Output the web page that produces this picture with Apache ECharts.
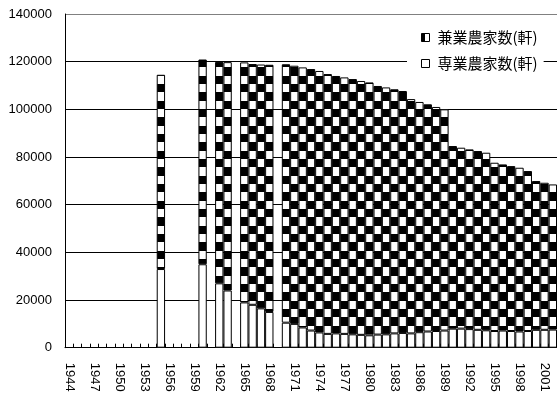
<!DOCTYPE html>
<html>
<head>
<meta charset="utf-8">
<style>
  html, body { margin: 0; padding: 0; background: #fff; }
  #chart { width: 557px; height: 395px; }
</style>
<script src="https://cdn.jsdelivr.net/npm/echarts@6/dist/echarts.min.js"></script>
</head>
<body>
<div id="chart"></div>
<script>
// Survey years on the category axis
const years = [
  '1944','1945','1946','1947','1948','1949','1950','1951','1952','1953',
  '1954','1955','1956','1957','1958','1959','1960','1961','1962','1963',
  '1964','1965','1966','1967','1968','1969','1970','1971','1972','1973',
  '1974','1975','1976','1977','1978','1979','1980','1981','1982','1983',
  '1984','1985','1986','1987','1988','1989','1990','1991','1992','1993',
  '1994','1995','1996','1997','1998','1999','2000','2001','2002'
];

// 専業農家数 (full-time farm households), null = no survey
const fullTime = [
  null, null, null, null, null, null, null, null, null, null,
  null, 33000, null, null, null, null, 35000, null, 27000, 24000,
  null, 19000, 18000, 16500, 15000, null, 10500, 10000, 8500, 7200,
  6400, 5800, 6000, 5800, 5600, 5400, 5200, 5500, 5600, 6000,
  6200, 6000, 6500, 6800, 7000, 7200, 8000, 8000, 7800, 7500,
  7300, 7000, 7200, 7000, 6800, 7000, 7500, 7500, 7600
];

// 兼業農家数 (part-time farm households)
const partTime = [
  null, null, null, null, null, null, null, null, null, null,
  null, 81500, null, null, null, null, 85900, null, 92900, 95800,
  null, 100700, 101000, 102300, 103700, null, 108400, 108300, 109100, 109700,
  109700, 109000, 108000, 107600, 107100, 106500, 106100, 104300, 103600, 102400,
  101500, 98300, 96600, 95300, 94000, 92800, 76600, 75900, 75400, 75000,
  74500, 70600, 69700, 69200, 68700, 67100, 62400, 61700, 60900
];

const yTicks = [0, 20000, 40000, 60000, 80000, 100000, 120000, 140000];

// Large checkerboard fill, cell size follows the bar width
function checkerPattern() {
  const size = 50, cell = size / 6;
  const c = document.createElement('canvas');
  c.width = size; c.height = size;
  const ctx = c.getContext('2d');
  ctx.fillStyle = '#fff';
  ctx.fillRect(0, 0, size, size);
  ctx.fillStyle = '#000';
  const ox = 15 % cell, oy = 0.67;
  for (let i = -1; i < 8; i++) {
    for (let j = -1; j < 8; j++) {
      if (((i + j) % 2 + 2) % 2 !== 0) continue;
      const x0 = Math.round(ox + i * cell), x1 = Math.round(ox + (i + 1) * cell);
      const y0 = Math.round(oy + j * cell), y1 = Math.round(oy + (j + 1) * cell);
      // wrap so the tile repeats seamlessly
      for (const dx of [-size, 0, size]) {
        for (const dy of [-size, 0, size]) {
          ctx.fillRect(x0 + dx, y0 + dy, x1 - x0, y1 - y0);
        }
      }
    }
  }
  return c;
}

const chart = echarts.init(document.getElementById('chart'), null, { renderer: 'canvas' });

const gridColors = yTicks.map((v, i) => i === yTicks.length - 1 ? '#808080' : '#000');

chart.setOption({
  animation: false,
  backgroundColor: '#fff',
  textStyle: { fontFamily: 'Liberation Sans, Arial, sans-serif', color: '#000' },
  grid: { left: 65, right: 0, top: 14, bottom: 47.3, containLabel: false },
  legend: {
    orient: 'vertical',
    left: 407,
    top: 24,
    padding: [6, 6, 6, 14],
    itemWidth: 8,
    itemHeight: 8,
    itemGap: 11,
    backgroundColor: '#fff',
    z: 4,
    textStyle: {
      fontFamily: '"Noto Sans CJK JP", sans-serif',
      fontSize: 15,
      color: '#000',
      padding: [0, 0, 0, 3]
    },
    data: [
      {
        name: '兼業農家数(軒)',
        icon: 'rect',
        itemStyle: {
          color: {
            type: 'linear', x: 0, y: 0, x2: 1, y2: 0,
            colorStops: [
              { offset: 0, color: '#000' }, { offset: 0.5, color: '#000' },
              { offset: 0.5, color: '#fff' }, { offset: 1, color: '#fff' }
            ]
          },
          borderColor: '#000',
          borderWidth: 1
        }
      },
      {
        name: '専業農家数(軒)',
        icon: 'rect',
        itemStyle: { color: '#fff', borderColor: '#000', borderWidth: 1 }
      }
    ]
  },
  xAxis: {
    type: 'category',
    data: years,
    boundaryGap: true,
    axisLine: { show: true, lineStyle: { color: '#000', width: 1 } },
    axisTick: { show: true, inside: true, length: 4, interval: 0, lineStyle: { color: '#000' } },
    axisLabel: {
      interval: 2,
      rotate: -90,
      margin: 15,
      fontSize: 13,
      color: '#000',
      fontFamily: 'Liberation Sans, Arial, sans-serif'
    },
    splitLine: { show: false }
  },
  yAxis: {
    type: 'value',
    min: 0,
    max: 140000,
    interval: 20000,
    axisLine: { show: true, lineStyle: { color: '#000', width: 1 } },
    axisTick: { show: false },
    axisLabel: {
      margin: 13,
      fontSize: 13,
      color: '#000',
      fontFamily: 'Liberation Sans, Arial, sans-serif',
      formatter: (v) => String(v)
    },
    splitLine: { show: true, lineStyle: { color: gridColors, width: 1 } }
  },
  series: [
    {
      name: '専業農家数(軒)',
      type: 'bar',
      stack: 'farms',
      data: fullTime,
      barCategoryGap: '0%',
      itemStyle: { color: '#fff', borderColor: '#000', borderWidth: 1 }
    },
    {
      name: '兼業農家数(軒)',
      type: 'bar',
      stack: 'farms',
      data: partTime,
      barCategoryGap: '0%',
      itemStyle: {
        color: { image: checkerPattern(), repeat: 'repeat' },
        borderColor: '#000',
        borderWidth: 1
      }
    }
  ]
});
</script>
</body>
</html>
